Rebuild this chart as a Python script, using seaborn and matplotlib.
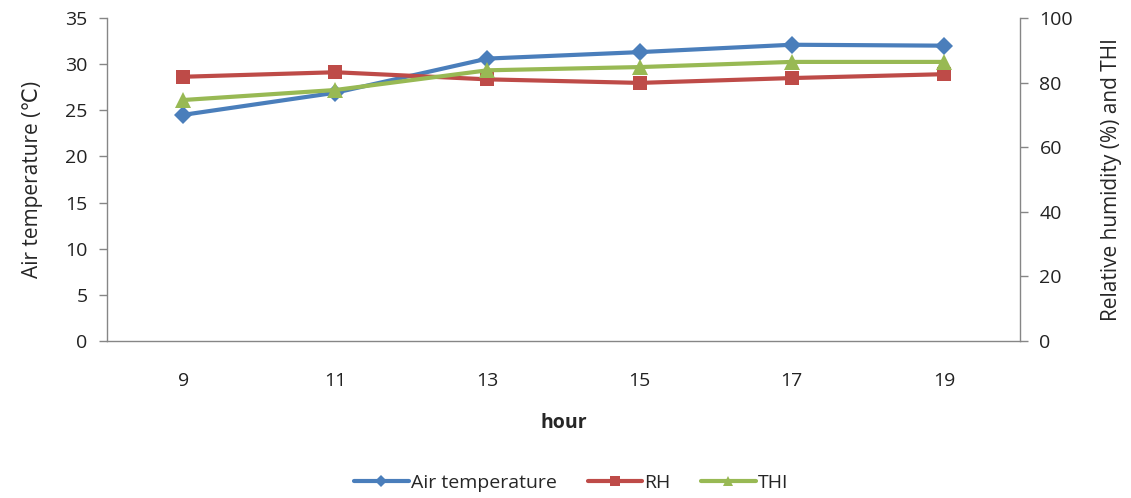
import pandas as pd
import seaborn as sns
import matplotlib.pyplot as plt
import matplotlib.ticker as ticker

hours = [9, 11, 13, 15, 17, 19]
air_temp = [24.5, 26.9, 30.6, 31.3, 32.1, 32.0]
rh = [81.8, 83.2, 81.0, 79.9, 81.4, 82.6]
thi = [74.6, 77.7, 83.8, 84.8, 86.4, 86.4]

sns.set_style('white')
plt.rcParams['font.family'] = ['Open Sans', 'DejaVu Sans']

df = pd.DataFrame({'hour': hours, 'Air temperature': air_temp, 'RH': rh, 'THI': thi})

c_blue, c_red, c_green = '#4a7ebb', '#be4b48', '#98b954'
grey = '#868686'
fs = 14

fig = plt.figure(figsize=(11.31, 4.98), dpi=100)
ax1 = fig.add_axes([0.0946, 0.3153, 0.8073, 0.6486])
ax2 = ax1.twinx()

sns.lineplot(x='hour', y='Air temperature', data=df, ax=ax1, color=c_blue,
             marker='D', markersize=9, linewidth=3, markeredgewidth=0,
             label='Air temperature', legend=False)
sns.lineplot(x='hour', y='RH', data=df, ax=ax2, color=c_red,
             marker='s', markersize=10, linewidth=3, markeredgewidth=0,
             label='RH', legend=False)
sns.lineplot(x='hour', y='THI', data=df, ax=ax2, color=c_green,
             marker='^', markersize=11, linewidth=3, markeredgewidth=0,
             label='THI', legend=False)

ax1.set_xlim(8, 20)
ax1.set_ylim(0, 35)
ax2.set_ylim(0, 100)
ax1.set_xticks(hours)
ax1.xaxis.set_minor_locator(ticker.FixedLocator(range(8, 21, 2)))
ax1.yaxis.set_major_locator(ticker.MultipleLocator(5))
ax2.yaxis.set_major_locator(ticker.MultipleLocator(20))

for ax in (ax1, ax2):
    for s in ax.spines.values():
        s.set_visible(False)
ax1.spines['left'].set_visible(True)
ax1.spines['bottom'].set_visible(True)
ax2.spines['right'].set_visible(True)
for s in (ax1.spines['left'], ax1.spines['bottom'], ax2.spines['right']):
    s.set_color(grey)
    s.set_linewidth(1)

ax1.tick_params(axis='x', which='major', length=0, pad=22, labelsize=fs, colors='#222222')
ax1.tick_params(axis='x', which='minor', length=8, width=1, color=grey, direction='out')
ax1.tick_params(axis='y', length=6, width=1, color=grey, direction='out', pad=8,
                labelsize=fs, labelcolor='#222222')
ax2.tick_params(axis='y', length=6, width=1, color=grey, direction='out', pad=8,
                labelsize=fs, labelcolor='#222222')

ax1.set_xlabel('hour', fontsize=fs, fontweight='bold', labelpad=17)
ax1.set_ylabel('Air temperature (\u2103)', fontsize=fs + 1, labelpad=16)
ax2.set_ylabel('Relative humidity (%) and THI', fontsize=fs + 1, labelpad=20)

handles = ax1.get_lines()[:1] + ax2.get_lines()[:2]
fig.legend(handles, ['Air temperature', 'RH', 'THI'], loc='center', ncol=3,
           bbox_to_anchor=(0.505, 0.03), frameon=False, fontsize=fs,
           handlelength=2.8, columnspacing=1.6, handletextpad=0.1, markerscale=0.7)

plt.savefig('out.png', dpi=100)
